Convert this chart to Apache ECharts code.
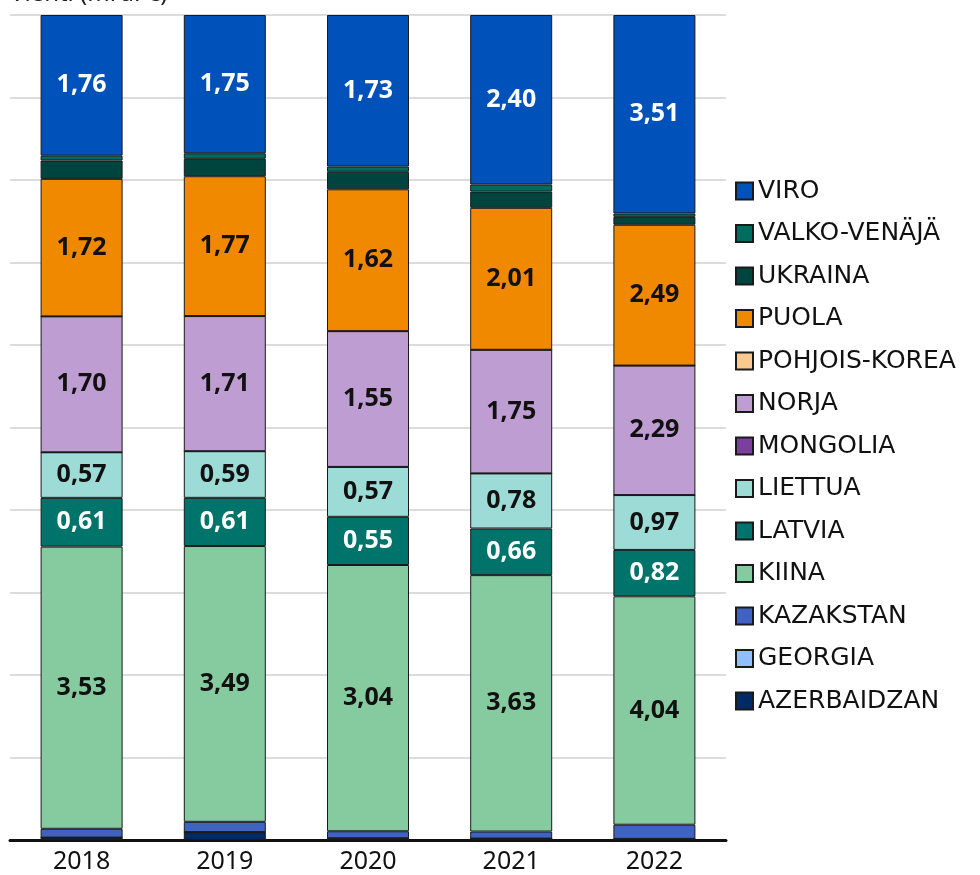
<!DOCTYPE html>
<html>
<head>
<meta charset="utf-8">
<script src="https://cdn.jsdelivr.net/npm/echarts@6/dist/echarts.min.js"></script>
<style>
  html, body { margin: 0; padding: 0; background: #fff; }
  #main { width: 980px; height: 875px; }
</style>
</head>
<body>
<div id="main"></div>
<script>
// vuodet
var years = ['2018', '2019', '2020', '2021', '2022'];

// vienti mrd. € maittain (alhaalta ylös)
var azerbaidzan = [0.03, 0.10, 0.02, 0.02, 0.02];
var georgia = [0, 0, 0, 0, 0];
var kazakstan = [0.11, 0.13, 0.08, 0.10, 0.25];
var kiina = [3.53, 3.49, 3.04, 3.63, 4.04];
var latvia = [0.61, 0.61, 0.55, 0.66, 0.82];
var liettua = [0.57, 0.59, 0.57, 0.78, 0.97];
var mongolia = [0, 0, 0, 0, 0];
var norja = [1.70, 1.71, 1.55, 1.75, 2.29];
var pohjoisKorea = [0, 0, 0, 0, 0];
var puola = [1.72, 1.77, 1.62, 2.01, 2.49];
var ukraina = [0.23, 0.22, 0.20, 0.23, 0.14];
var valkoVenaja = [0.06, 0.07, 0.06, 0.10, 0.06];
var viro = [1.76, 1.75, 1.73, 2.40, 3.51];

var seriesDefs = [
  { name: 'AZERBAIDZAN', data: azerbaidzan, color: '#002a66' },
  { name: 'GEORGIA', data: georgia, color: '#8fbfff' },
  { name: 'KAZAKSTAN', data: kazakstan, color: '#3f63c0' },
  { name: 'KIINA', data: kiina, color: '#86cba0', label: '#111' },
  { name: 'LATVIA', data: latvia, color: '#00736a', label: '#fff' },
  { name: 'LIETTUA', data: liettua, color: '#9ddcd6', label: '#111' },
  { name: 'MONGOLIA', data: mongolia, color: '#7b3fa0' },
  { name: 'NORJA', data: norja, color: '#be9dd2', label: '#111' },
  { name: 'POHJOIS-KOREA', data: pohjoisKorea, color: '#f9c98f' },
  { name: 'PUOLA', data: puola, color: '#f08800', label: '#111' },
  { name: 'UKRAINA', data: ukraina, color: '#00443f' },
  { name: 'VALKO-VENÄJÄ', data: valkoVenaja, color: '#006b5f' },
  { name: 'VIRO', data: viro, color: '#0051ba', label: '#fff' }
];

// summat per vuosi -> osuudet (100 % pinottu)
var totals = years.map(function (y, i) {
  var s = 0;
  seriesDefs.forEach(function (d) { s += d.data[i]; });
  return s;
});

var series = seriesDefs.map(function (d) {
  return {
    name: d.name,
    type: 'bar',
    stack: 'all',
    barWidth: 82,
    itemStyle: { color: d.color, borderColor: '#1a1a1a', borderWidth: 1 },
    label: {
      show: !!d.label,
      position: 'inside',
      color: d.label || '#111',
      fontFamily: 'Noto Sans',
      fontWeight: 'bold',
      fontSize: 25,
      formatter: function (p) {
        return d.data[p.dataIndex].toFixed(2).replace('.', ',');
      }
    },
    emphasis: { disabled: true },
    data: d.data.map(function (v, i) { return v / totals[i] * 100; })
  };
});

var chart = echarts.init(document.getElementById('main'));
chart.setOption({
  animation: false,
  textStyle: { fontFamily: 'Noto Sans' },
  grid: { left: 10, right: 254, top: 15, bottom: 35 },
  graphic: [{
    type: 'text',
    left: 10,
    top: -18,
    style: { text: 'Vienti (mrd. €)', fontSize: 24, fill: '#222', fontFamily: 'Noto Sans' }
  }],
  legend: {
    orient: 'vertical',
    left: 735,
    top: 178.5,
    padding: 0,
    itemWidth: 17,
    itemHeight: 17,
    itemGap: 17.5,
    icon: 'rect',
    data: seriesDefs.map(function (d) { return d.name; }).reverse(),
    textStyle: { fontSize: 25, fontFamily: 'DejaVu Sans', color: '#111', lineHeight: 25 },
    selectedMode: false
  },
  xAxis: {
    type: 'category',
    data: years,
    axisLine: { lineStyle: { color: '#111', width: 3 } },
    axisTick: { show: false },
    axisLabel: { fontSize: 25, color: '#111', margin: 9 }
  },
  yAxis: {
    type: 'value',
    min: 0,
    max: 100,
    interval: 10,
    axisLine: { show: false },
    axisTick: { show: false },
    axisLabel: { show: false },
    splitLine: { lineStyle: { color: '#dcdcdc', width: 2 } }
  },
  series: series
});
</script>
</body>
</html>
